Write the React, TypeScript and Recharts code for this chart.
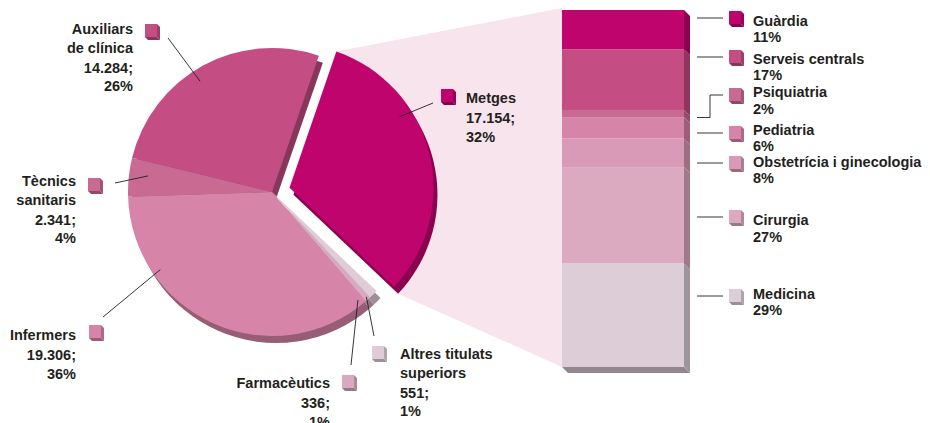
import { Bar, BarChart, Cell, Customized, Pie, PieChart, XAxis, YAxis } from 'recharts';

// Personal per col·lectiu (pie)
const staffNames = ['Auxiliars\nde clínica', 'Tècnics\nsanitaris', 'Infermers', 'Farmacèutics', 'Altres titulats\nsuperiors', 'Metges'];
const staffCounts = [14284, 2341, 19306, 336, 551, 17154];
const staffColors = ['#c44d84', '#c86a92', '#d784a9', '#d9a9bf', '#e0ccd7', '#c0046e'];

// Metges per servei (bar)
const serviceNames = ['Guàrdia', 'Serveis centrals', 'Psiquiatria', 'Pediatria', 'Obstetrícia i ginecologia', 'Cirurgia', 'Medicina'];
const servicePercents = [11, 17, 2, 6, 8, 27, 29];
const serviceColors = ['#c0046e', '#c44d84', '#c86a92', '#d784a9', '#d89ab6', '#dbaac0', '#dccdd7'];

const W = 930;
const H = 423;
const FONT = '"Liberation Sans", Arial, sans-serif';
const INK = '#231f20';

const PIE_CX = 272;
const PIE_CY = 192;
const PIE_R = 144;
const PIE_START = 71;
const EXPLODED = 5;
const EXPLODE = 18;
const DEPTH_X = 4;
const DEPTH_Y = 7;

const BAR_LEFT = 562;
const BAR_TOP = 10;
const BAR_W = 122;
const BAR_H = 357;
const BAR_DEPTH = 6;

// label placement for the pie (square position, leader end, text)
const staffLabelLayout = [
  { angle: 123, r: 132, box: [145, 24], end: [168, 38], textX: 133, textY: 34, anchor: 'end' },
  { angle: 172.6, r: 125, box: [88, 178], end: [115, 183], textX: 76, textY: 186, anchor: 'end' },
  { angle: 214.8, r: 136, box: [89, 325], end: [103, 317], textX: 76, textY: 340, anchor: 'end' },
  { angle: 308.5, r: 138, box: [342, 375], end: [351, 365], textX: 330, textY: 388, anchor: 'end' },
  { angle: 312, r: 141, box: [372, 346], end: [374, 336], textX: 400, textY: 359, anchor: 'start' },
  { angle: 32.8, r: 131, box: [441, 89], end: [433, 103], textX: 466, textY: 103, anchor: 'start' },
];
// legend rows for the bar: leader y and text baselines
const serviceLineY = [18, 57, 95, 133, 163, 217, 296];
const serviceTextY = [26, 64, 97, 135, 167, 225, 299];
const servicePctY = [42, 80, 114, 151, 183, 242, 315];

const total = staffCounts.reduce((a, b) => a + b, 0);
const staffData = staffNames.map((name, i) => ({ name, value: staffCounts[i] }));
const serviceRow: Record<string, number | string> = { name: 'Metges' };
serviceNames.forEach((n, i) => (serviceRow[n] = servicePercents[i]));
const serviceData = [serviceRow];

const RAD = Math.PI / 180;
const before = staffCounts.slice(0, EXPLODED).reduce((a, b) => a + b, 0);
const exStart = PIE_START + (360 * before) / total;
const exEnd = exStart + (360 * staffCounts[EXPLODED]) / total;
const exMid = (exStart + exEnd) / 2;
const EX_CX = PIE_CX + EXPLODE * Math.cos(exMid * RAD);
const EX_CY = PIE_CY - EXPLODE * Math.sin(exMid * RAD);

const polar = (cx: number, cy: number, r: number, a: number) => [cx + r * Math.cos(a * RAD), cy - r * Math.sin(a * RAD)];

function shade(hex: string, f: number) {
  const n = parseInt(hex.slice(1), 16);
  const c = [(n >> 16) & 255, (n >> 8) & 255, n & 255].map((v) => Math.round(v * f));
  return `rgb(${c.join(',')})`;
}

const fmt = (n: number) => n.toString().replace(/\B(?=(\d{3})+(?!\d))/g, '.');

function Swatch({ x, y, color }: { x: number; y: number; color: string }) {
  const s = 12;
  const d = 3;
  return (
    <g>
      <polygon points={`${x},${y + 13} ${x + s},${y + 13} ${x + s + d},${y + 13 + d} ${x + d},${y + 13 + d}`} fill={shade(color, 0.7)} />
      <polygon points={`${x + s},${y} ${x + s + d},${y + d} ${x + s + d},${y + 13 + d} ${x + s},${y + 13}`} fill={shade(color, 0.8)} />
      <rect x={x} y={y} width={s} height={13} fill={color} />
    </g>
  );
}

function Connector() {
  const top = polar(EX_CX, EX_CY, PIE_R, exEnd);
  const bot = polar(EX_CX + DEPTH_X, EX_CY + DEPTH_Y, PIE_R, exStart);
  const pts = [top, [BAR_LEFT, BAR_TOP - 2], [BAR_LEFT, BAR_TOP + BAR_H], bot].map((p) => p.join(',')).join(' ');
  return <polygon points={pts} fill="#f8e4ec" />;
}

function renderStaffLabel(props: any) {
  const i = props.index;
  const L = staffLabelLayout[i];
  const cx = i === EXPLODED ? EX_CX : PIE_CX;
  const cy = i === EXPLODED ? EX_CY : PIE_CY;
  const [ax, ay] = polar(cx, cy, L.r, L.angle);
  const nameLines = staffNames[i].split('\n');
  const pct = Math.round((staffCounts[i] / total) * 100);
  const lines = [...nameLines, `${fmt(staffCounts[i])};`, `${pct}%`];
  return (
    <g key={`lbl-${i}`}>
      <line x1={ax} y1={ay} x2={L.end[0]} y2={L.end[1]} stroke={INK} strokeWidth={0.9} />
      <Swatch x={L.box[0]} y={L.box[1]} color={staffColors[i]} />
      <text x={L.textX} y={L.textY} textAnchor={L.anchor} fontFamily={FONT} fontWeight="bold" fontSize={14.5} fill={INK}>
        {lines.map((t, k) => (
          <tspan key={k} x={L.textX} y={L.textY + k * 18.5 + (k >= nameLines.length ? 1.5 : 0)}>
            {t}
          </tspan>
        ))}
      </text>
    </g>
  );
}

function makeBlock(i: number) {
  return (props: any) => {
    const { x, width, fill } = props;
    const y = Math.min(props.y, props.y + props.height);
    const h = Math.abs(props.height);
    const d = BAR_DEPTH;
    const right = x + width;
    const ly = serviceLineY[i];
    const inside = ly >= y && ly <= y + h;
    const midY = y + h / 2;
    const tx = 753;
    return (
      <g>
        <polygon points={`${right},${y} ${right + d},${y + d} ${right + d},${y + h + d} ${right},${y + h}`} fill={shade(fill, 0.72)} />
        {i === serviceNames.length - 1 && (
          <polygon points={`${x},${y + h} ${right},${y + h} ${right + d},${y + h + d} ${x + d},${y + h + d}`} fill={shade(fill, 0.66)} />
        )}
        <rect x={x} y={y} width={width} height={h} fill={fill} />
        {inside ? (
          <line x1={right + 13} y1={ly} x2={723} y2={ly} stroke={INK} strokeWidth={0.9} />
        ) : (
          <polyline points={`${right + 13},${midY + 4} 710,${midY + 4} 710,${ly} 723,${ly}`} fill="none" stroke={INK} strokeWidth={0.9} />
        )}
        <Swatch x={729} y={ly - 7} color={fill} />
        <text x={tx} y={serviceTextY[i]} fontFamily={FONT} fontWeight="bold" fontSize={14.5} fill={INK}>
          {serviceNames[i]}
        </text>
        <text x={tx} y={servicePctY[i]} fontFamily={FONT} fontWeight="bold" fontSize={14.5} fill={INK}>
          {servicePercents[i]}%
        </text>
      </g>
    );
  };
}

export default function App() {
  const pieCommon = {
    data: staffData,
    dataKey: 'value',
    outerRadius: PIE_R,
    startAngle: PIE_START,
    endAngle: PIE_START + 360,
    stroke: 'none',
    isAnimationActive: false,
  };
  const order = serviceNames.map((_, i) => i).reverse();
  return (
    <div style={{ position: 'absolute', left: 0, top: 0, width: W, height: H, background: '#fff' }}>
      <div style={{ position: 'absolute', left: 0, top: 0 }}>
        <PieChart width={W} height={H} margin={{ top: 0, right: 0, bottom: 0, left: 0 }}>
          <Customized component={Connector} />
          <Pie {...pieCommon} cx={PIE_CX + DEPTH_X} cy={PIE_CY + DEPTH_Y}>
            {staffData.map((_, i) => (
              <Cell key={i} fill={i === EXPLODED ? 'transparent' : shade(staffColors[i], 0.7)} />
            ))}
          </Pie>
          <Pie {...pieCommon} cx={EX_CX + DEPTH_X} cy={EX_CY + DEPTH_Y}>
            {staffData.map((_, i) => (
              <Cell key={i} fill={i === EXPLODED ? shade(staffColors[i], 0.72) : 'transparent'} />
            ))}
          </Pie>
          <Pie {...pieCommon} cx={PIE_CX} cy={PIE_CY}>
            {staffData.map((_, i) => (
              <Cell key={i} fill={i === EXPLODED ? 'transparent' : staffColors[i]} />
            ))}
          </Pie>
          <Pie {...pieCommon} cx={EX_CX} cy={EX_CY} label={renderStaffLabel} labelLine={false}>
            {staffData.map((_, i) => (
              <Cell key={i} fill={i === EXPLODED ? staffColors[i] : 'transparent'} />
            ))}
          </Pie>
        </PieChart>
      </div>
      <div style={{ position: 'absolute', left: 0, top: 0 }}>
        <BarChart
          width={W}
          height={H}
          data={serviceData}
          margin={{ top: BAR_TOP, left: BAR_LEFT, right: W - BAR_LEFT - BAR_W, bottom: H - BAR_TOP - BAR_H }}
          barCategoryGap={0}
        >
          <XAxis dataKey="name" hide />
          <YAxis hide type="number" domain={[0, 100]} />
          {order.map((i) => (
            <Bar
              key={serviceNames[i]}
              dataKey={serviceNames[i]}
              stackId="s"
              fill={serviceColors[i]}
              shape={makeBlock(i)}
              isAnimationActive={false}
            />
          ))}
        </BarChart>
      </div>
    </div>
  );
}
